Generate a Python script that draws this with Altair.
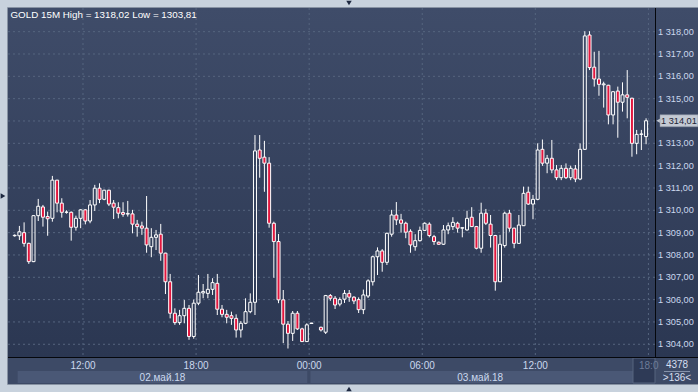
import altair as alt
import pandas as pd

symbol = "GOLD"
period = "15M"
first_bar = "2018-05-02 08:15"
bar_minutes = 15

# OHLC per 15-minute bar (None = no bar in that slot)
opens = [
    1308.86, 1308.86, 1309.00, 1308.52, 1307.70, 1309.76, 1310.15, 1309.72, 1309.64, 1311.35,
    1310.32, 1309.91, 1309.91, 1309.24, 1309.64, 1310.02, 1309.52, 1310.24, 1310.99, 1310.49,
    1310.90, 1310.32, 1310.12, 1309.90, 1309.83, 1309.84, 1309.38, 1309.30, 1309.20, 1308.37,
    1308.79, 1308.93, 1308.08, 1306.80, 1305.39, 1304.97, 1305.28, 1305.61, 1304.35, 1305.84,
    1306.30, 1306.28, 1306.46, 1306.73, 1305.57, 1305.34, 1305.28, 1305.16, 1304.64, 1304.94,
    1305.46, 1305.88, 1312.70, 1312.38, 1312.11, 1309.42, 1308.60, 1305.99, 1304.90, 1304.49,
    1305.39, 1304.69, 1304.12, 1304.93, None, 1304.76, 1304.54, 1306.18, 1306.06, 1305.80,
    1306.02, 1306.28, 1306.11, 1306.00, 1305.55, 1306.16, 1306.80, 1307.92, 1308.18, 1307.67,
    1308.93, 1309.79, 1309.57, 1309.42, 1309.06, 1308.37, 1308.64, 1309.10, 1309.38, 1308.82,
    1308.57, 1308.48, 1309.12, 1309.27, 1309.42, 1309.20, 1309.12, 1309.69, 1309.27, 1308.30,
    1309.87, 1309.38, 1308.87, 1306.80, 1308.42, 1309.87, 1309.20, 1308.52, 1309.31, 1310.81,
    1310.28, 1310.49, 1312.73, 1312.11, 1312.33, 1311.81, 1311.46, 1311.88, 1311.46, 1311.85,
    1311.40, 1312.73, 1317.85, 1316.41, 1315.88, 1315.62, 1315.60, 1314.27, 1315.34, 1314.84,
    1315.17, 1315.02, 1313.00, 1313.40, 1313.30,
]
highs = [
    1308.92, 1309.30, 1309.46, 1308.55, 1309.78, 1310.51, 1310.24, 1309.94, 1311.54, 1311.36,
    1310.54, 1310.00, 1309.95, 1309.76, 1310.05, 1310.05, 1310.46, 1311.14, 1311.21, 1310.92,
    1310.92, 1310.46, 1310.36, 1310.36, 1310.42, 1310.02, 1309.57, 1309.49, 1310.64, 1309.20,
    1309.12, 1309.39, 1308.10, 1307.15, 1305.61, 1305.54, 1305.98, 1305.76, 1306.00, 1307.10,
    1306.70, 1307.15, 1306.96, 1307.15, 1305.76, 1305.54, 1305.46, 1305.34, 1305.04, 1306.06,
    1306.28, 1313.37, 1313.37, 1313.11, 1312.38, 1309.49, 1308.94, 1306.43, 1305.04, 1305.49,
    1305.49, 1304.74, 1304.94, 1304.96, None, 1304.79, 1306.21, 1306.25, 1306.16, 1306.10,
    1306.43, 1306.43, 1306.15, 1306.10, 1306.45, 1306.91, 1307.97, 1308.34, 1308.26, 1309.00,
    1310.02, 1310.37, 1309.84, 1309.49, 1309.15, 1308.93, 1309.27, 1309.46, 1309.46, 1308.90,
    1308.60, 1309.34, 1309.45, 1309.69, 1309.49, 1309.24, 1309.98, 1310.14, 1309.30, 1310.34,
    1310.06, 1309.79, 1308.90, 1308.90, 1309.94, 1310.02, 1309.22, 1309.79, 1311.06, 1311.06,
    1310.69, 1313.00, 1313.17, 1312.48, 1313.15, 1312.03, 1312.03, 1312.10, 1312.00, 1312.03,
    1313.00, 1318.02, 1318.02, 1317.10, 1317.14, 1315.76, 1315.62, 1315.34, 1315.54, 1315.73,
    1316.28, 1315.04, 1313.60, 1313.60, 1314.12,
]
lows = [
    1308.82, 1308.67, 1308.37, 1307.60, 1307.68, 1309.52, 1309.27, 1308.86, 1309.49, 1309.91,
    1309.67, 1309.85, 1308.64, 1309.09, 1309.20, 1309.37, 1309.42, 1309.97, 1310.32, 1310.45,
    1310.19, 1309.61, 1309.64, 1309.71, 1309.72, 1308.97, 1308.82, 1308.90, 1308.10, 1307.90,
    1308.22, 1307.74, 1306.25, 1305.16, 1304.87, 1304.87, 1304.94, 1304.20, 1304.25, 1305.75,
    1306.06, 1306.06, 1306.21, 1305.31, 1305.21, 1304.94, 1304.87, 1304.30, 1304.30, 1304.90,
    1305.39, 1305.31, 1311.46, 1310.83, 1309.22, 1306.98, 1305.84, 1304.05, 1303.81, 1304.15,
    1304.64, 1304.10, 1304.10, 1304.92, None, 1304.57, 1304.46, 1305.95, 1305.58, 1305.70,
    1305.85, 1305.90, 1305.80, 1305.40, 1305.35, 1306.07, 1306.63, 1307.10, 1307.25, 1307.55,
    1308.82, 1309.34, 1309.00, 1308.75, 1308.10, 1308.19, 1308.60, 1309.07, 1308.79, 1308.45,
    1308.45, 1308.45, 1308.93, 1309.12, 1309.00, 1308.79, 1309.09, 1309.25, 1308.25, 1308.10,
    1309.34, 1308.33, 1306.40, 1306.79, 1308.33, 1309.04, 1308.30, 1308.50, 1309.30, 1310.24,
    1309.60, 1310.45, 1311.99, 1311.66, 1311.66, 1311.35, 1311.35, 1311.40, 1311.35, 1311.26,
    1311.35, 1312.70, 1316.28, 1315.54, 1315.13, 1314.60, 1313.85, 1313.85, 1313.25, 1314.42,
    1314.12, 1312.40, 1312.51, 1312.70, 1312.96,
]
closes = [
    1308.88, 1309.04, 1308.52, 1307.70, 1309.76, 1310.18, 1309.69, 1309.62, 1311.35, 1310.32,
    1309.91, 1309.92, 1309.24, 1309.64, 1310.02, 1309.52, 1310.24, 1310.99, 1310.49, 1310.90,
    1310.28, 1310.14, 1309.87, 1309.82, 1309.86, 1309.38, 1309.27, 1309.20, 1308.45, 1308.79,
    1308.90, 1308.08, 1306.80, 1305.39, 1304.97, 1305.28, 1305.61, 1304.35, 1305.84, 1306.33,
    1306.36, 1306.46, 1306.76, 1305.57, 1305.34, 1305.21, 1305.16, 1304.64, 1304.94, 1305.46,
    1305.88, 1312.66, 1312.33, 1312.11, 1309.42, 1308.60, 1305.99, 1304.90, 1304.49, 1305.39,
    1304.69, 1304.12, 1304.87, 1304.95, None, 1304.64, 1306.18, 1306.06, 1305.76, 1306.00,
    1306.28, 1306.11, 1305.94, 1305.55, 1306.21, 1306.84, 1307.92, 1308.18, 1307.67, 1308.97,
    1309.79, 1309.57, 1309.42, 1309.02, 1308.45, 1308.64, 1309.10, 1309.42, 1308.87, 1308.60,
    1308.48, 1309.12, 1309.31, 1309.46, 1309.20, 1309.22, 1309.64, 1309.27, 1308.30, 1309.87,
    1309.42, 1308.87, 1306.80, 1308.48, 1309.87, 1309.20, 1308.52, 1309.34, 1310.76, 1310.28,
    1310.49, 1312.70, 1312.11, 1312.33, 1311.81, 1311.46, 1311.88, 1311.46, 1311.88, 1311.40,
    1312.73, 1317.81, 1316.39, 1315.88, 1315.64, 1315.66, 1314.27, 1315.31, 1314.84, 1315.17,
    1315.06, 1313.00, 1313.40, 1313.42, 1314.01,
]

y_ticks = [1304, 1305, 1306, 1307, 1308, 1309, 1310, 1311, 1312, 1313, 1314, 1315, 1316, 1317, 1318]
x_tick_times = ["2018-05-02 12:00", "2018-05-02 18:00", "2018-05-03 00:00",
                "2018-05-03 06:00", "2018-05-03 12:00", "2018-05-03 18:00"]
day_labels = ["02.май.18", "03.май.18"]
day_start = ["2018-05-02 08:32", "2018-05-03 00:04"]
day_end = ["2018-05-02 23:54", "2018-05-03 18:05"]
x_domain = ["2018-05-02 08:17:10", "2018-05-03 18:05:00"]
y_domain = [1303.43, 1319.06]
bar_count_text = "4378"
visible_bars_text = ">136<"

# ---------- build tables ----------
def iso(s):
    return pd.Timestamp(s).strftime("%Y-%m-%dT%H:%M:%S")

def dt(s):
    ts = pd.Timestamp(s)
    return alt.DateTime(year=ts.year, month=ts.month, date=ts.day,
                        hours=ts.hour, minutes=ts.minute, seconds=ts.second)

t0 = pd.Timestamp(first_bar)
rows = []
for i in range(len(opens)):
    if opens[i] is None:
        continue
    o, h, l, c = opens[i], highs[i], lows[i], closes[i]
    mid = t0 + pd.Timedelta(minutes=bar_minutes * (i + 0.5))
    rows.append(dict(t=mid.strftime("%Y-%m-%dT%H:%M:%S"), open=o, high=h, low=l, close=c,
                     top=max(o, c), bot=min(o, c), dir="up" if c >= o else "down"))
df = pd.DataFrame(rows)

hi = max(v for v in highs if v is not None)
lo = min(v for v in lows if v is not None)
title_text = f"{symbol} {period} High = {hi:.2f} Low = {lo:.2f}".replace(".", ",")
last_close = [v for v in closes if v is not None][-1]

def price_label(v):
    return f"{v:,.2f}".replace(",", " ").replace(".", ",")

ygrid_df = pd.DataFrame({"v": y_ticks})
ylab_df = pd.DataFrame({"v": [v for v in y_ticks if abs(v - last_close) > 0.4]})
ylab_df["lbl"] = [price_label(v) for v in ylab_df["v"]]
xgrid_df = pd.DataFrame({"t": [iso(s) for s in x_tick_times]})
xlab_df = pd.DataFrame({"t": [iso(s) for s in x_tick_times[:-1]],
                        "lbl": [pd.Timestamp(s).strftime("%H:%M") for s in x_tick_times[:-1]]})
days_df = pd.DataFrame({
    "label": day_labels,
    "start": [iso(s) for s in day_start],
    "end": [iso(s) for s in day_end],
    "mid": [(pd.Timestamp(a) + (pd.Timestamp(b) - pd.Timestamp(a)) / 2).strftime("%Y-%m-%dT%H:%M:%S")
            for a, b in zip(day_start, day_end)],
})
tag_df = pd.DataFrame({"close": [last_close], "lbl": [price_label(last_close)]})
one = pd.DataFrame({"k": [0]})

xscale = alt.Scale(domain=[dt(s) for s in x_domain])
yscale = alt.Scale(domain=y_domain, nice=False, zero=False)

FONT = "Liberation Sans"
LABEL = "#cbd8ee"
W, H = 647, 349
RIGHT_EDGE = 690
BOTTOM_EDGE = 376

# ---------- background panels ----------
grad = alt.LinearGradient(
    gradient="linear",
    stops=[alt.GradientStop(color="#3f4c69", offset=0),
           alt.GradientStop(color="#2b3752", offset=1)],
    x1=0, x2=0, y1=0, y2=1,
)
bg = alt.Chart(one).mark_rect(fill=grad).encode(
    x=alt.value(0), x2=alt.value(RIGHT_EDGE), y=alt.value(0), y2=alt.value(H))
xpanel = alt.Chart(one).mark_rect(fill="#3d4a66").encode(
    x=alt.value(0), x2=alt.value(RIGHT_EDGE), y=alt.value(H), y2=alt.value(BOTTOM_EDGE))
frame = alt.Chart(one).mark_rect(fillOpacity=0, stroke="#8893a3", strokeWidth=1).encode(
    x=alt.value(-0.5), x2=alt.value(RIGHT_EDGE + 0.5), y=alt.value(-0.5), y2=alt.value(BOTTOM_EDGE + 0.5))

day_band = alt.Chart(days_df).mark_rect(fill="#4a5876").encode(
    x=alt.X("start:T", scale=xscale, axis=None), x2="end:T",
    y=alt.value(363), y2=alt.value(375))
day_text = alt.Chart(days_df).mark_text(
    font=FONT, fontSize=10, color=LABEL, baseline="middle", align="center").encode(
    x=alt.X("mid:T", scale=xscale, axis=None), y=alt.value(369.5), text="label:N")

cur_box = alt.Chart(one).mark_rect(fill="#2e3a56", stroke="#56647f", strokeWidth=1).encode(
    x=alt.value(625), x2=alt.value(W), y=alt.value(H + 1), y2=alt.value(BOTTOM_EDGE - 1))
cur_text = alt.Chart(one).mark_text(
    font=FONT, fontSize=10, color="#6d7c98", align="left", baseline="middle", text="18:0").encode(
    x=alt.value(631), y=alt.value(358))

# ---------- grid and axis labels ----------
ygrid = alt.Chart(ygrid_df).mark_rule(color="#56657f", strokeWidth=1, strokeDash=[2, 3]).encode(
    y=alt.Y("v:Q", scale=yscale, axis=None))
xgrid = alt.Chart(xgrid_df).mark_rule(color="#56657f", strokeWidth=1, strokeDash=[2, 3]).encode(
    x=alt.X("t:T", scale=xscale, axis=None))
ylabels = alt.Chart(ylab_df).mark_text(
    font=FONT, fontSize=9.2, color=LABEL, align="left", baseline="middle").encode(
    x=alt.value(W + 3), y=alt.Y("v:Q", scale=yscale, axis=None), text="lbl:N")
xlabels = alt.Chart(xlab_df).mark_text(
    font=FONT, fontSize=10, color=LABEL, align="center", baseline="middle").encode(
    x=alt.X("t:T", scale=xscale, axis=None), y=alt.value(358), text="lbl:N")

hline = alt.Chart(one).mark_rule(color="#05070c", strokeWidth=1).encode(
    x=alt.value(0), x2=alt.value(RIGHT_EDGE), y=alt.value(H + 0.5))
vline = alt.Chart(one).mark_rule(color="#05070c", strokeWidth=1).encode(
    x=alt.value(W + 0.5), y=alt.value(0), y2=alt.value(H))

# ---------- candles ----------
base = alt.Chart(df)
wick_up = base.mark_rule(color="white", strokeWidth=1).encode(
    x=alt.X("t:T", scale=xscale, axis=None),
    y=alt.Y("high:Q", scale=yscale, axis=None), y2="top:Q")
wick_dn = base.mark_rule(color="white", strokeWidth=1).encode(
    x=alt.X("t:T", scale=xscale, axis=None),
    y=alt.Y("bot:Q", scale=yscale, axis=None), y2="low:Q")
bodies = base.mark_bar(size=3, stroke="white", strokeWidth=1).encode(
    x=alt.X("t:T", scale=xscale, axis=None),
    y=alt.Y("open:Q", scale=yscale, axis=None),
    y2="close:Q",
    fill=alt.Fill("dir:N", scale=alt.Scale(domain=["up", "down"], range=["transparent", "#e2163e"]),
                  legend=None),
)

# ---------- last price tag ----------
tag_base = alt.Chart(tag_df)
tag_arrow = tag_base.mark_point(shape="triangle-left", filled=True, size=36, color="#c3c9d3", opacity=1).encode(
    x=alt.value(651), y=alt.Y("close:Q", scale=yscale, axis=None))
tag_box = tag_base.mark_rect(fill="#c3c9d3", stroke="#8a93a3", strokeWidth=0.5, yOffset=-6, y2Offset=6).encode(
    x=alt.value(652), x2=alt.value(RIGHT_EDGE), y=alt.Y("close:Q", scale=yscale, axis=None), y2="close:Q")
tag_text = tag_base.mark_text(font=FONT, fontSize=9.2, color="#1d2435", align="left", baseline="middle").encode(
    x=alt.value(653), y=alt.Y("close:Q", scale=yscale, axis=None), text="lbl:N")

# ---------- texts ----------
title = alt.Chart(one).mark_text(
    font=FONT, fontSize=9.8, color="#ffffff", align="left", baseline="middle", text=title_text).encode(
    x=alt.value(2.5), y=alt.value(6.5))
cnt1 = alt.Chart(one).mark_text(
    font=FONT, fontSize=10, color="#d6dff0", align="center", baseline="middle", text=bar_count_text).encode(
    x=alt.value(669), y=alt.value(356.5))
cnt_line = alt.Chart(one).mark_rule(color="#8592aa", strokeWidth=1).encode(
    x=alt.value(656), x2=alt.value(682), y=alt.value(363.5))
cnt2 = alt.Chart(one).mark_text(
    font=FONT, fontSize=10, color="#d6dff0", align="center", baseline="middle", text=visible_bars_text).encode(
    x=alt.value(669), y=alt.value(370))

tri_top = alt.Chart(one).mark_point(shape="triangle-down", filled=True, size=30, color="#1d2840", opacity=1).encode(
    x=alt.value(341), y=alt.value(-5))
tri_bot = alt.Chart(one).mark_point(shape="triangle-up", filled=True, size=30, color="#1d2840", opacity=1).encode(
    x=alt.value(341), y=alt.value(381))
tri_left = alt.Chart(one).mark_point(shape="triangle-right", filled=True, size=30, color="#1d2840", opacity=1).encode(
    x=alt.value(-5), y=alt.value(188))

chart = alt.layer(
    bg, xpanel, day_band, day_text, cur_box, cur_text, frame,
    ygrid, xgrid, hline, vline, ylabels, xlabels,
    wick_up, wick_dn, bodies,
    tag_arrow, tag_box, tag_text,
    title, cnt1, cnt_line, cnt2, tri_top, tri_bot, tri_left,
).properties(
    width=W, height=H,
    padding={"left": 8, "top": 8, "right": 43, "bottom": 35},
    autosize=alt.AutoSizeParams(type="none"),
).configure(background="#c8d2dd").configure_view(strokeWidth=0)

chart.save("out.html", embed_options={"renderer": "svg", "actions": False})
